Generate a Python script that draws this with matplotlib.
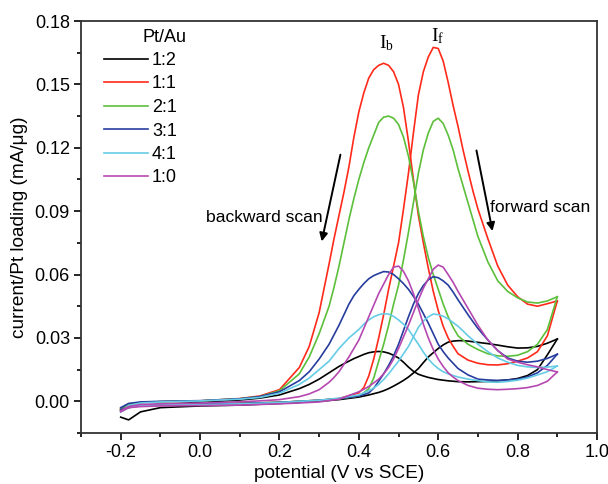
import matplotlib
matplotlib.use("Agg")
import matplotlib.pyplot as plt
from matplotlib.ticker import MultipleLocator, FormatStrFormatter

# potentials of the forward (anodic) and backward (cathodic) scans, V vs SCE
v_fwd = [-0.2, -0.18, -0.15, -0.1, 0.0, 0.1, 0.2, 0.25, 0.3, 0.35,
         0.4, 0.4125, 0.425, 0.4375, 0.45, 0.4625, 0.475, 0.4875,
         0.5, 0.5125, 0.525, 0.5375, 0.55, 0.5625, 0.575, 0.5875,
         0.6, 0.6125, 0.625, 0.6375, 0.65, 0.6625, 0.675, 0.6875,
         0.7, 0.725, 0.75, 0.775, 0.8, 0.825, 0.85, 0.875, 0.9]
v_bwd = [0.9, 0.875, 0.85, 0.825, 0.8, 0.775, 0.75, 0.725, 0.7, 0.675,
         0.65, 0.6375, 0.625, 0.6125, 0.6, 0.5875, 0.575, 0.5625,
         0.55, 0.5375, 0.525, 0.5125, 0.5, 0.4875, 0.475, 0.4625,
         0.45, 0.4375, 0.425, 0.4125, 0.4, 0.3875, 0.375, 0.3625,
         0.35, 0.3375, 0.325,
         0.3, 0.275, 0.25, 0.2, 0.15, 0.1, 0.0, -0.1, -0.15, -0.18, -0.2]

# current / Pt loading (mA/ug), Pt/Au = 1:2
fwd_12 = [-0.0075, -0.0088, -0.005, -0.003, -0.0022, -0.0018, -0.001, -0.0005, 0.0, 0.0008,
          0.002, 0.0025, 0.003, 0.0036, 0.0042, 0.005, 0.006, 0.0072,
          0.0085, 0.0099, 0.0115, 0.0134, 0.0155, 0.0183, 0.021, 0.023,
          0.025, 0.0267, 0.028, 0.0285, 0.0287, 0.0287, 0.0285, 0.0282,
          0.0279, 0.0273, 0.0266, 0.0258, 0.0252, 0.0253, 0.026, 0.0275, 0.0295]
bwd_12 = [0.0295, 0.022, 0.015, 0.0122, 0.0108, 0.0101, 0.0097, 0.0094, 0.0093, 0.0092,
          0.0093, 0.0095, 0.0097, 0.010, 0.0103, 0.0108, 0.0113, 0.012,
          0.0128, 0.0142, 0.0162, 0.0185, 0.0205, 0.0218, 0.0228, 0.0234,
          0.0236, 0.0234, 0.023, 0.0222, 0.0212, 0.0202, 0.019, 0.0178,
          0.0165, 0.015, 0.0135,
          0.0105, 0.008, 0.006, 0.003, 0.0015, 0.0006, -0.0005, -0.0015, -0.002, -0.003, -0.0045]

# 1:1
fwd_11 = [-0.004, -0.0025, -0.002, -0.0018, -0.0015, -0.001, -0.0005, 0.0, 0.0005, 0.0013,
          0.004, 0.0065, 0.012, 0.020, 0.030, 0.041, 0.053, 0.064,
          0.075, 0.091, 0.108, 0.127, 0.145, 0.156, 0.163, 0.1675,
          0.167, 0.161, 0.151, 0.140, 0.130, 0.119, 0.109, 0.0995,
          0.091, 0.077, 0.064, 0.055, 0.0495, 0.046, 0.045, 0.0462, 0.0475]
bwd_11 = [0.0475, 0.031, 0.0235, 0.0205, 0.019, 0.0178, 0.0172, 0.0173, 0.018, 0.0195,
          0.0225, 0.026, 0.030, 0.0355, 0.043, 0.052, 0.063, 0.075,
          0.088, 0.105, 0.123, 0.139, 0.150, 0.156, 0.159, 0.160,
          0.159, 0.157, 0.153, 0.146, 0.137, 0.125, 0.111, 0.099,
          0.088, 0.077, 0.065,
          0.042, 0.026, 0.016, 0.0055, 0.0025, 0.0013, 0.0002, -0.0002, -0.0005, -0.0015, -0.0035]

# 2:1
fwd_21 = [-0.004, -0.0025, -0.002, -0.0018, -0.0015, -0.001, -0.0005, 0.0, 0.0005, 0.0012,
          0.0025, 0.004, 0.006, 0.011, 0.019, 0.027, 0.036, 0.046,
          0.055, 0.067, 0.080, 0.094, 0.108, 0.119, 0.127, 0.1325,
          0.134, 0.1315, 0.126, 0.119, 0.110, 0.102, 0.094, 0.086,
          0.078, 0.066, 0.057, 0.052, 0.049, 0.047, 0.0465, 0.0475, 0.0495]
bwd_21 = [0.0495, 0.034, 0.027, 0.0235, 0.0218, 0.0213, 0.0215, 0.0225, 0.0245, 0.027,
          0.031, 0.035, 0.040, 0.046, 0.053, 0.060, 0.068, 0.078,
          0.090, 0.104, 0.116, 0.125, 0.131, 0.134, 0.135, 0.1345,
          0.132, 0.126, 0.120, 0.113, 0.105, 0.096, 0.086, 0.075,
          0.064, 0.054, 0.045,
          0.032, 0.021, 0.013, 0.005, 0.0022, 0.0012, 0.0002, -0.0002, -0.0005, -0.0015, -0.0035]

# 3:1
fwd_31 = [-0.004, -0.0025, -0.0018, -0.0015, -0.0012, -0.001, -0.0005, 0.0, 0.0005, 0.0012,
          0.0025, 0.0032, 0.004, 0.0062, 0.0095, 0.013, 0.017, 0.0215,
          0.027, 0.0335, 0.040, 0.046, 0.051, 0.0548, 0.0575, 0.059,
          0.0585, 0.057, 0.055, 0.0517, 0.048, 0.0445, 0.041, 0.0377,
          0.0345, 0.029, 0.024, 0.0205, 0.019, 0.0185, 0.019, 0.0203, 0.0223]
bwd_31 = [0.0223, 0.017, 0.0135, 0.0115, 0.0105, 0.0101, 0.0099, 0.0101, 0.0105, 0.0125,
          0.0155, 0.018, 0.0205, 0.0235, 0.027, 0.032, 0.037, 0.0415,
          0.046, 0.0497, 0.053, 0.0557, 0.058, 0.060, 0.0612, 0.0614,
          0.0605, 0.0595, 0.058, 0.0557, 0.053, 0.050, 0.046, 0.041,
          0.036, 0.0315, 0.027,
          0.020, 0.014, 0.0098, 0.0045, 0.0022, 0.0012, 0.0003, 0.0, -0.0003, -0.001, -0.003]

# 4:1
fwd_41 = [-0.005, -0.003, -0.002, -0.0017, -0.0015, -0.0012, -0.0006, 0.0, 0.0005, 0.0015,
          0.003, 0.004, 0.005, 0.0063, 0.008, 0.0103, 0.013, 0.016,
          0.019, 0.0225, 0.026, 0.0305, 0.035, 0.038, 0.040, 0.0413,
          0.041, 0.0403, 0.039, 0.0373, 0.0355, 0.0333, 0.031, 0.029,
          0.027, 0.0235, 0.0205, 0.0185, 0.017, 0.0163, 0.016, 0.0162, 0.0167]
bwd_41 = [0.0167, 0.014, 0.0125, 0.011, 0.010, 0.0094, 0.009, 0.0092, 0.0098, 0.0105,
          0.0115, 0.0122, 0.013, 0.014, 0.0155, 0.0175, 0.020, 0.0233,
          0.027, 0.0305, 0.034, 0.0365, 0.0385, 0.0402, 0.0413, 0.0415,
          0.041, 0.040, 0.0385, 0.0365, 0.034, 0.032, 0.030, 0.0275,
          0.025, 0.022, 0.019,
          0.015, 0.011, 0.008, 0.0038, 0.0018, 0.001, 0.0002, -0.0003, -0.0008, -0.002, -0.005]

# 1:0
fwd_10 = [-0.005, -0.003, -0.0025, -0.0022, -0.002, -0.0018, -0.0012, -0.0008, -0.0003, 0.001,
          0.0045, 0.0057, 0.007, 0.0087, 0.0105, 0.013, 0.016, 0.020,
          0.025, 0.0305, 0.036, 0.042, 0.048, 0.0535, 0.058, 0.0625,
          0.0645, 0.0635, 0.060, 0.0563, 0.052, 0.048, 0.044, 0.040,
          0.036, 0.029, 0.024, 0.020, 0.0185, 0.0173, 0.0163, 0.015, 0.0139]
bwd_10 = [0.0139, 0.0095, 0.0075, 0.0065, 0.006, 0.0057, 0.0055, 0.0057, 0.0062, 0.0075,
          0.0098, 0.0115, 0.0135, 0.0165, 0.020, 0.0245, 0.030, 0.0365,
          0.044, 0.051, 0.057, 0.0615, 0.064, 0.0635, 0.060, 0.0555,
          0.051, 0.0455, 0.040, 0.0345, 0.029, 0.025, 0.021, 0.0175,
          0.014, 0.0113, 0.009,
          0.0055, 0.0035, 0.0022, 0.0008, 0.0002, -0.0002, -0.0008, -0.0012, -0.0015, -0.0025, -0.0045]

labels = ["1:2", "1:1", "2:1", "3:1", "4:1", "1:0"]
fwd_all = [fwd_12, fwd_11, fwd_21, fwd_31, fwd_41, fwd_10]
bwd_all = [bwd_12, bwd_11, bwd_21, bwd_31, bwd_41, bwd_10]
colors = ["#000000", "#ff2a1a", "#5cbf3a", "#263d9e", "#66cce6", "#b548b0"]

plt.rcParams["font.family"] = ["Liberation Sans", "DejaVu Sans"]
plt.rcParams["axes.unicode_minus"] = False
fs = 13

fig = plt.figure(figsize=(6.08, 4.84), dpi=100)
ax = fig.add_axes([81 / 608, 51 / 484, 516 / 608, 412 / 484])

for lab, f, b, c in zip(labels, fwd_all, bwd_all, colors):
    ax.plot(v_fwd, f, color=c, lw=1.2, label=lab)
    ax.plot(v_bwd, b, color=c, lw=1.2)

ax.set_xlim(-0.3, 1.0)
ax.set_ylim(-0.015, 0.18)
ax.xaxis.set_major_locator(MultipleLocator(0.2))
ax.xaxis.set_minor_locator(MultipleLocator(0.1))
ax.yaxis.set_major_locator(MultipleLocator(0.03))
ax.yaxis.set_minor_locator(MultipleLocator(0.015))
ax.xaxis.set_major_formatter(FormatStrFormatter("%.1f"))
ax.yaxis.set_major_formatter(FormatStrFormatter("%.2f"))
ax.tick_params(which="both", direction="out", top=False, right=False, labelsize=fs, width=1.2)
ax.tick_params(which="major", length=5, pad=3)
ax.tick_params(which="minor", length=3)
for s in ax.spines.values():
    s.set_linewidth(1.3)
    s.set_color("#333333")

ax.set_xlabel("potential (V vs SCE)", fontsize=13.7, labelpad=3)
ax.set_ylabel("current/Pt loading (mA/μg)", fontsize=13.7, labelpad=5)

leg = ax.legend(loc="upper left", bbox_to_anchor=(104 / 608, 1 - 52 / 484),
                bbox_transform=fig.transFigure, frameon=False, fontsize=fs,
                handlelength=2.44, handletextpad=0.22, labelspacing=0.36,
                borderpad=0, borderaxespad=0)
fig.text(165 / 608, 1 - 38 / 484, "Pt/Au", fontsize=fs, ha="center", va="center")

ax.text(0.163, 0.087, "backward scan", fontsize=12.6, ha="center", va="center")
ax.text(0.857, 0.0915, "forward scan", fontsize=12.6, ha="center", va="center")
ax.annotate("", xy=(0.305, 0.0744), xytext=(0.355, 0.118),
            arrowprops=dict(arrowstyle="-|>", color="k", lw=1.4, mutation_scale=12))
ax.annotate("", xy=(0.738, 0.0793), xytext=(0.695, 0.120),
            arrowprops=dict(arrowstyle="-|>", color="k", lw=1.4, mutation_scale=12))

ax.text(0.451, 0.1672, r"$\mathregular{I_b}$", fontsize=14, family="Liberation Serif",
        ha="left", va="baseline")
ax.text(0.582, 0.1705, r"$\mathregular{I_f}$", fontsize=14, family="Liberation Serif",
        ha="left", va="baseline")

fig.savefig("out.png", dpi=100)
